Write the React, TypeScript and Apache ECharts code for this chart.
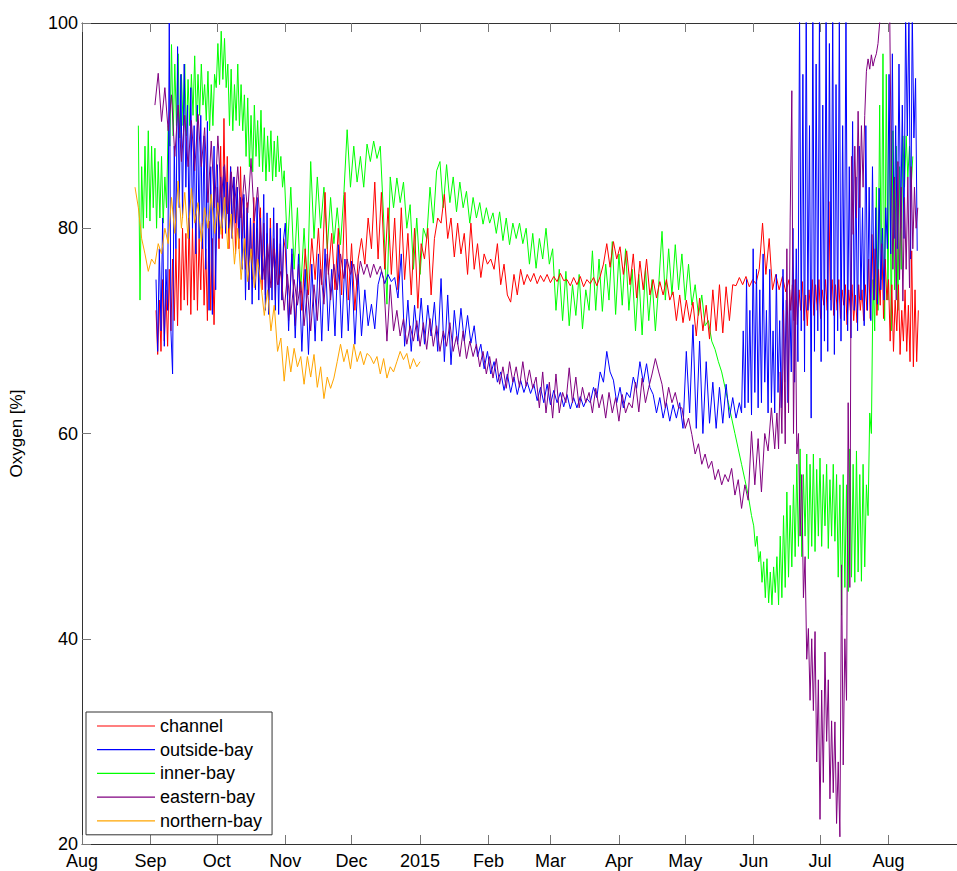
import React, { useEffect, useRef } from "react";
import * as echarts from "echarts";

// x values are days since 1 Aug 2014
const tickDays = [0, 31, 61, 92, 122, 153, 184, 212, 243, 273, 304, 334, 365];
const tickLabels = ["Aug", "Sep", "Oct", "Nov", "Dec", "2015", "Feb", "Mar", "Apr", "May", "Jun", "Jul", "Aug"];
const stepA = 1.5; // days between readings in calmer parts
const stepB = 0.75; // days between readings in the noisy parts

// ---- channel ----
const channelStart0 = 33.5;
const channelValues0 = [
  72, 67.7, 73, 68, 75, 69, 74, 68.5, 76, 70, 77, 71, 78, 70.5, 79, 72, 80, 73, 79.5, 72.5,
  81, 71.6, 80, 73, 81.4, 72, 79, 74, 80.5, 72.5, 78, 71, 80.7, 72, 79, 70.6, 78, 84, 78, 88,
  79, 90.7, 80, 87, 78, 86, 79, 85, 77.5, 84, 78, 86, 79, 83, 76, 82.5, 74, 81, 75, 83,
  74.5, 80, 76, 82, 74, 80.5, 73.5, 79.5, 73, 81, 75, 79, 73, 80.5, 74.5, 78.5, 73, 79,
];
const channelStartA = 92;
const channelValuesA = [
  78,
  71, 77.5, 70.5, 76.5, 72, 78, 73.5, 79, 75, 80, 74.5, 83.5, 75.5, 79.5, 74, 80, 73.5, 83.5, 73, 78.5,
  72, 77, 79, 76.5, 81, 78, 84.5, 77, 83.5, 76, 82, 75.5, 81, 74, 82, 75, 79.5, 73.5, 80, 72.2,
  78.5, 77, 80, 73.5, 79, 81, 80.5, 83.3, 79, 81, 77.2, 80.5, 77.5, 79.5, 75.5, 80.5, 76, 78.5, 75.2, 77.5,
  76.5, 77, 76, 78.5, 74.5, 76.5, 73.5, 72.8, 75.5, 73.5, 76, 74.5, 75.5, 74.8, 75.6, 74.6, 75.4, 74.8, 75.5, 74.7,
  75.3, 74.8, 75.6, 74.9, 75, 74.4, 75.2, 74.5, 75.3, 74.3, 75, 74.6, 75.2, 74.4, 75.3, 76.5, 78.5, 76.2, 78.7, 77,
  78.2, 75.5, 77.8, 74.5, 77.5, 73.2, 76.8, 74, 77, 73.5, 75, 73.2, 74.8, 73.5, 75, 73, 73.8, 71, 73.5, 70.8,
  73, 71, 72.8, 69.5, 73.2, 70, 72.5, 69.2, 74, 70, 74.5, 69.8, 74.3, 71, 74.5, 74.4, 75.2, 74.5, 75.3, 74.3,
  75, 74.6, 76, 80.5, 75.5, 79, 74, 75.5, 74, 75.3, 73.8,
];
const channelStartB = 320;
const channelValuesB = [
  75, 72, 74.5, 71, 75, 70.6, 74, 72, 74.8, 71, 73.5, 70.5, 74, 72, 75, 71.5, 74.5, 72, 75, 71.2,
  74, 72.5, 75, 72, 82.6, 73, 75, 71.5, 74.5, 72, 75, 71.2, 74, 72.5, 74.5, 70.6, 74, 72, 74.5, 71,
  73.5, 70.8, 74.5, 72, 74, 71, 74.5, 72, 77, 71.2, 79.4, 73, 78, 71.5, 76, 72.5, 78.5, 71.2, 77, 73,
  75, 69, 74.5, 68, 73, 70, 74.5, 67.7, 72, 69, 74, 68, 72.5, 67, 77.8, 66.5, 74, 67, 72,
];

// ---- outside-bay ----
const outsideStart0 = 33.5;
const outsideValues0 = [
  75, 68, 78, 70, 81, 68.5, 76, 72, 100, 70, 65.8, 88, 78, 97.7, 82, 95, 81, 96, 84, 92,
  79, 93.7, 80, 90, 77.5, 92, 79, 91, 78, 89, 76, 90.4, 72, 86, 71.6, 88, 74, 86.2, 79, 85,
  80, 86, 79.5, 84.5, 80, 86, 79, 85, 80.5, 84, 79, 83, 76, 83.3, 73, 82, 74, 81, 72.6, 80.5,
  74, 83, 73, 81, 75, 83.3, 72, 81.5, 71.6, 80, 73, 82, 72, 80.5, 71.6, 80, 73, 79,
];
const outsideStartA = 92;
const outsideValuesA = [
  80.5,
  70, 78, 69.3, 77.5, 68, 76, 67.7, 76.5, 69, 77.5, 69, 78, 70, 76, 69.5, 78.4, 69.3, 77, 70, 76.8,
  68.7, 75.5, 69.5, 74, 70.5, 72.6, 70.2, 74.5, 75.8, 74.6, 75.5, 74.8, 75.2, 73.2, 77.5, 68.5, 73, 68, 72.5, 69,
  73.2, 68.7, 72.5, 69.5, 72.8, 68, 75.1, 67, 73.5, 66.7, 72, 68.7, 72.2, 69, 71.5, 68.8, 70.5, 67.5, 68.7, 66.3,
  68, 65.8, 67, 65, 66, 64.2, 65.8, 64, 65.5, 63.8, 65.2, 64, 65, 63.9, 64.8, 63.2, 64.5, 63, 64.8, 62.8,
  64.2, 63, 64, 62.6, 63.8, 62.4, 63.5, 62.5, 63.6, 62.6, 63.4, 63, 64.5, 63.5, 66, 65, 68, 66, 65.2, 63,
  64.5, 62.5, 64, 63.5, 65.5, 64.4, 67, 65, 66.8, 64.5, 63.8, 62, 63.5, 61.5, 63, 61.2, 62.8, 61.5, 63, 60.5,
  68, 62, 70.6, 60.5, 69, 60, 67, 61, 65, 60.5, 64.5, 61, 64.8, 61.5, 63.5, 61.5, 63,
];
const outsideStartB = 298.5;
const outsideValuesB = [
  62, 70, 62.5, 75, 63, 72, 61.8, 78, 64, 76, 62.5, 74, 63, 77.5, 65, 72, 62, 76, 63, 70,
  62, 75.5, 64, 71, 62.5, 76, 65, 73, 63, 74, 66, 80, 65, 78, 67, 101, 70, 95, 66, 101,
  72, 90, 61.5, 101, 68, 96, 70, 101, 67, 92, 69, 101, 68, 98, 72, 101, 67.7, 94, 70, 101,
  69, 90, 71, 101, 70, 86, 69.3, 90.4, 72, 85, 70, 88, 73, 82, 70.5, 90, 72, 84, 71, 86,
  73, 82, 72.6, 83.9, 74, 80, 73, 82, 78, 95, 77.5, 97, 79, 90, 78, 96, 80, 92, 79, 101,
  89, 101, 77, 101, 88.8, 94.6, 77.8,
];

// ---- inner-bay ----
const innerStart0 = 25.5;
const innerValues0 = [
  90, 73, 86, 80, 88, 81, 89.5, 80.7, 88, 82, 87.8, 80, 86.5, 81, 87, 80.5, 85, 82, 90, 88,
  97.9, 89, 96, 90, 97, 88.8, 95, 90, 96, 89, 94.5, 90, 95, 91, 96.8, 90.4, 95, 91, 96, 92,
  94, 90.5, 95.3, 89.5, 94, 90, 95, 93.7, 98, 94, 99.2, 94.5, 98.5, 93.7, 96, 90, 95.5, 89.5, 94, 90.5,
  96, 90, 94, 89.5, 93, 87, 92.7, 86, 91, 85.5, 92, 87, 90.5, 86, 91.5, 85.5, 89.8, 84.6, 89, 85.5,
  89.5, 84.6, 88.5, 85, 89, 85.5, 87, 84,
];
const innerStartA = 91.5;
const innerValuesA = [
  85.6, 78, 84, 76, 82, 74, 80, 73.9, 86.5, 79, 85, 80, 84, 78, 83, 78.5,
  82, 78.4, 83.3, 89.6, 84, 88, 84.5, 87, 84, 88.2, 86.5, 88.5, 86.8, 88, 81, 72.6, 85, 82, 84.9, 82.5,
  84.5, 80, 82.3, 76, 81, 75.5, 80, 79, 84, 80.5, 85.6, 86.5, 82, 86.2, 82.5, 85, 81.6, 84.5, 82, 83.6,
  80.5, 83, 81, 82.5, 80.4, 82, 80.5, 81.5, 79.5, 81.6, 78.8, 81, 78.4, 80.5, 79, 80.5, 78.5, 80, 76.5, 79.5,
  76.1, 79, 77, 80, 76.5, 78, 72, 76, 71, 75.8, 70.5, 74.5, 71.5, 75.5, 70.2, 74, 72, 77.8, 72, 77,
  71.9, 76.5, 73, 78.7, 71.6, 77.5, 72.5, 78, 72, 76, 70, 75.5, 69.6, 76.1, 71, 75, 70, 74.5, 79.7, 73,
  78, 73.5, 78.4, 74, 77.5, 73, 76.5, 72.5, 74.5, 71.5, 73.5, 70.5, 71, 69, 68.2, 67, 66, 64.5, 63, 61.5,
  60, 58.5, 57, 55.5, 54, 52,
];
const innerStartB = 304;
const innerValuesB = [
  51, 49, 50, 47.5, 48.5, 45.5, 47.5, 44, 47.8, 43.5, 46.5, 43.3, 47, 44.5, 48, 43.3, 50, 44, 52, 45,
  54.3, 46, 53, 47, 55, 48, 57, 49, 58.5, 48, 56, 50, 58, 47.8, 57, 49, 58, 48.5, 56.5, 50,
  57.6, 49, 56, 51, 57, 48.8, 55.5, 50, 57, 49.5, 56, 46, 55, 42.3, 56, 45, 55, 44.6, 58.5, 46,
  57, 45.5, 58.3, 46.5, 56, 45.6, 57, 47, 55, 52, 62, 60, 75, 70, 84, 72, 92, 75, 97, 71,
  95, 73, 90, 70, 89.5, 74, 88, 72, 86, 76, 89, 84, 89, 85, 88, 84, 87,
];

// ---- eastern-bay ----
const easternStartA = 33;
const easternValuesA = [
  92, 95.1, 90.4, 93.7, 89.5, 93, 87, 92, 86.5, 91, 86, 90.5, 85.6, 91.1, 86, 89.8, 82.5, 88.5, 82, 89,
  83, 86.2, 81.4, 85.5, 82, 86, 81, 85.2, 81.5, 86.8, 80.7, 84, 79, 75, 78.5, 74.2, 78, 74.5, 75.8, 72,
  75.5, 71.6, 75, 72.5, 74.8, 70.5, 74, 70, 74.5, 71, 76, 72.6, 77.5, 73, 76.5, 74, 77.5, 75.1, 77, 75.5,
  76.5, 74.5, 76.8, 75.5, 76.5, 75.2, 76.5, 75.5, 76.3, 75.1, 69, 74.5, 70, 72, 69.5, 71.2, 68.7, 70.5, 69, 71,
  68.5, 70.8, 68.2, 71.2, 68.5, 70.5, 68, 70, 68.5, 70.8, 68, 69.5, 67.5, 70, 67.3, 69, 67.5, 68.7, 66.5, 68,
  65.8, 67.5, 65.4, 67.3, 64.8, 66.5, 64.4, 67, 65, 66.5, 64.5, 67, 64.6, 66.2, 64.4, 65.5, 62.5, 66, 62, 65,
  61.5, 65.8, 62, 64, 63, 66.4, 63, 65.5, 62.5, 64.5, 63, 64, 62, 64.4, 62.5, 63.8, 61.5, 64, 62, 63.5,
  61.2, 63.8, 62, 63, 62.5, 65, 62.1, 65.4, 63, 64.5, 65.8, 67.3, 66, 64.8, 62.5, 64.5, 63, 64, 62.5, 62.5,
  60.5, 61.5, 59.9, 58, 59, 57, 58, 56.6, 57.3, 55.5, 56.5, 55, 56, 55.3, 56.6, 54, 55.5, 52.7, 55, 53.5,
  60.2, 55, 59.5, 54.3, 60, 58.3, 62.5, 58.5,
];
const easternStartB = 314.5;
const easternValuesB = [
  62, 58.5, 66, 60, 72, 59, 78, 62, 81, 93.4, 60, 75, 58, 60, 50, 56, 44, 48, 38, 41,
  34, 40, 33, 40.7, 28, 36, 22.4, 35, 26, 38.7, 30, 36, 24.4, 32, 25, 31.9, 22, 28, 20.7, 47.2,
  27.7, 40, 34, 63, 45, 87, 79.4, 88, 81, 91.4, 82, 90, 84, 91, 95.3, 96.5, 95.5, 96.9, 95.8, 96.5,
  97, 98, 100, 102, 104, 105, 104, 103, 102, 86, 76, 85, 73, 86.5, 75, 84, 72.9, 83, 76, 85,
  74.2, 86, 78, 84, 80, 82,
];

// ---- northern-bay ----
const northernStart = 24;
const northernValues = [
  84, 82, 79, 77.5, 75.8, 77, 76.5, 78.5, 77.5, 80, 78.5, 83, 79.5, 84.6, 80, 83.5, 79, 83.9, 80.5, 82.5,
  78.7, 82, 80, 83.3, 79.5, 82.5, 79.4, 83, 78, 81.4, 76.5, 80, 75, 79, 74.8, 78, 74.2, 77, 74.5, 71.5,
  74, 70, 72.5, 68, 69.3, 65.1, 68.5, 66, 68.3, 66.5, 67.5, 64.8, 67.5, 65.5, 67.7, 64.5, 66.5, 63.4, 65.5, 64.4,
  65.4, 67, 68.7, 67, 68.2, 66.3, 68.7, 67, 68, 66.7, 67.8, 67.5, 66.8, 67.5, 65.8, 67.3, 65.4, 66.5, 66, 67,
  68, 67.2, 67.8, 66.3, 67.3, 66.5, 67,
];

const seriesNames = ["channel", "outside-bay", "inner-bay", "eastern-bay", "northern-bay"];
const seriesColors = ["#ff0000", "#0000ff", "#00ff00", "#800080", "#ffa500"];

const FONT = "'Liberation Sans', Arial, sans-serif";

function toPoints(start: number, step: number, vals: number[]) {
  return vals.map((v, i) => [start + i * step, v]);
}

export default function App() {
  const ref = useRef<HTMLDivElement>(null);

  useEffect(() => {
    document.body.style.margin = "0";
    if (!ref.current) return;
    const chart = echarts.init(ref.current, undefined, { renderer: "svg" });

    const dataByName: Record<string, number[][]> = {
      channel: [
        ...toPoints(channelStart0, stepB, channelValues0),
        ...toPoints(channelStartA, stepA, channelValuesA),
        ...toPoints(channelStartB, stepB, channelValuesB),
      ],
      "outside-bay": [
        ...toPoints(outsideStart0, stepB, outsideValues0),
        ...toPoints(outsideStartA, stepA, outsideValuesA),
        ...toPoints(outsideStartB, stepB, outsideValuesB),
      ],
      "inner-bay": [
        ...toPoints(innerStart0, stepB, innerValues0),
        ...toPoints(innerStartA, stepA, innerValuesA),
        ...toPoints(innerStartB, stepB, innerValuesB),
      ],
      "eastern-bay": [
        ...toPoints(easternStartA, stepA, easternValuesA),
        ...toPoints(easternStartB, stepB, easternValuesB),
      ],
      "northern-bay": toPoints(northernStart, stepA, northernValues),
    };
    // drawing order (later on top)
    const drawOrder = ["inner-bay", "channel", "outside-bay", "eastern-bay", "northern-bay"];

    const xCommon = {
      type: "value" as const,
      min: 0,
      max: 396,
      splitLine: { show: false },
      axisLine: { show: true, onZero: false, lineStyle: { color: "#333", width: 1 } },
      axisTick: { show: true, inside: true, length: 9, customValues: tickDays, lineStyle: { color: "#777" } },
    };

    chart.setOption({
      animation: false,
      backgroundColor: "#fff",
      grid: { left: 77, top: 23, width: 895.4, height: 821, containLabel: false },
      xAxis: [
        {
          ...xCommon,
          position: "bottom",
          axisLabel: {
            customValues: tickDays,
            formatter: (v: number) => {
              const i = tickDays.indexOf(Math.round(v));
              return i >= 0 ? tickLabels[i] : "";
            },
            fontSize: 18,
            fontFamily: FONT,
            color: "#000",
            margin: 8,
            lineHeight: 18,
          },
        },
        {
          ...xCommon,
          position: "top",
          axisLabel: { show: false },
        },
      ],
      yAxis: {
        type: "value",
        min: 20,
        max: 100,
        interval: 20,
        splitLine: { show: false },
        axisLine: { show: true, lineStyle: { color: "#333", width: 1 } },
        axisTick: { show: true, inside: true, length: 9, lineStyle: { color: "#777" } },
        axisLabel: { fontSize: 18, fontFamily: FONT, color: "#000", margin: 4, lineHeight: 16 },
        name: "Oxygen [%]",
        nameLocation: "middle",
        nameGap: 57,
        nameTextStyle: { fontSize: 17, fontFamily: FONT, color: "#000" },
      },
      legend: {
        data: seriesNames,
        orient: "vertical",
        left: 86,
        top: 712,
        backgroundColor: "#fff",
        borderColor: "#333",
        borderWidth: 1,
        borderRadius: 0,
        padding: [4, 10, 4, 11],
        icon: "rect",
        itemWidth: 58,
        itemHeight: 1.2,
        itemGap: 3.7,
        textStyle: { fontSize: 18, fontFamily: FONT, color: "#000", lineHeight: 20 },
      },
      series: drawOrder.map((name) => {
        const idx = seriesNames.indexOf(name);
        return {
          name,
          type: "line",
          data: dataByName[name],
          symbol: "none",
          showSymbol: false,
          clip: true,
          color: seriesColors[idx],
          lineStyle: { color: seriesColors[idx], width: 1 },
          emphasis: { disabled: true },
        };
      }),
    });

    return () => chart.dispose();
  }, []);

  return <div ref={ref} style={{ width: 957, height: 871 }} />;
}
